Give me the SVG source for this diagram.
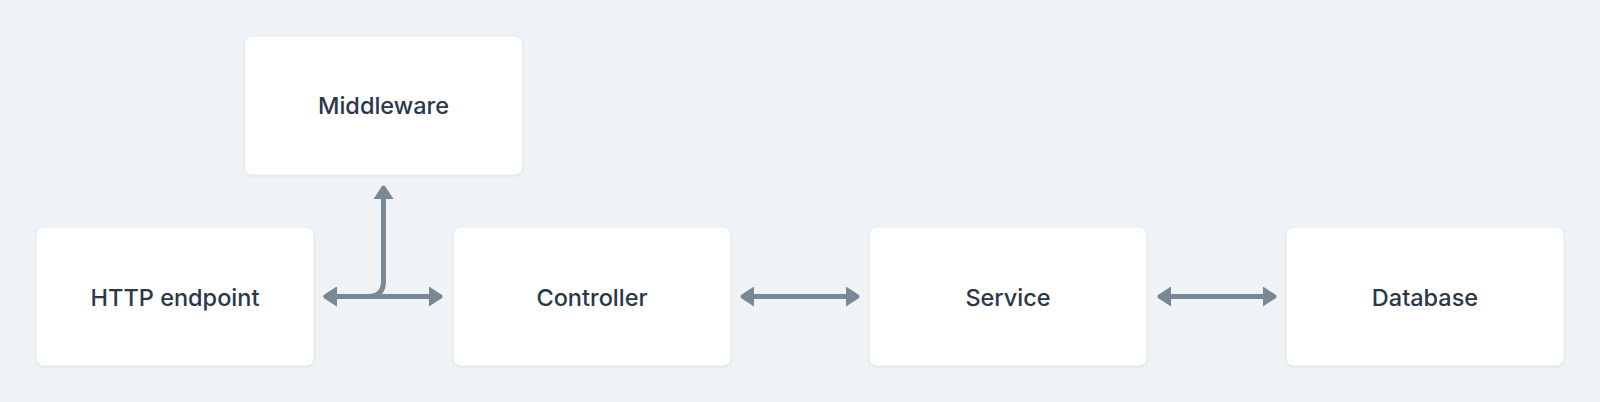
<svg xmlns="http://www.w3.org/2000/svg" width="1600" height="402" viewBox="0 0 1600 402">
  <style>
    .box { fill: #ffffff; stroke: #e6ebef; stroke-width: 1; }
    .lbl { font-family: Inter, "Noto Sans", sans-serif; font-size: 23.5px; font-weight: 500; fill: #28384a; text-anchor: middle; }
    .conn { fill: none; stroke: #7a8896; stroke-width: 5; }
  </style>
  <defs>
    <marker id="ah" viewBox="0 0 14 20" refX="12" refY="10" markerWidth="14" markerHeight="20" markerUnits="userSpaceOnUse" orient="auto-start-reverse">
      <path d="M0 0 L13 8.5 Q14 10 13 11.5 L0 20 Z" fill="#7a8896"/>
    </marker>
    <filter id="sh" x="-5%" y="-5%" width="110%" height="115%">
      <feDropShadow dx="0" dy="1" stdDeviation="1" flood-color="#8a99a8" flood-opacity="0.18"/>
    </filter>
  </defs>
  <rect width="1600" height="402" fill="#eff3f6"/>
  <g id="connectors">
    <path class="conn" d="M325 296.5 H441" marker-start="url(#ah)" marker-end="url(#ah)"/>
    <path class="conn" d="M325 296.5 H368 Q383.5 296.5 383.5 281 V187" marker-start="url(#ah)" marker-end="url(#ah)"/>
    <path class="conn" d="M742 296.5 H858" marker-start="url(#ah)" marker-end="url(#ah)"/>
    <path class="conn" d="M1159 296.5 H1275" marker-start="url(#ah)" marker-end="url(#ah)"/>
  </g>
  <g id="middleware">
    <rect class="box" x="244.5" y="36" width="278" height="139" rx="8" filter="url(#sh)"/>
    <text class="lbl" x="383.5" y="114">Middleware</text>
  </g>
  <g id="http-endpoint">
    <rect class="box" x="36" y="227" width="278" height="139" rx="8" filter="url(#sh)"/>
    <text class="lbl" x="175" y="305.5">HTTP endpoint</text>
  </g>
  <g id="controller">
    <rect class="box" x="453" y="227" width="278" height="139" rx="8" filter="url(#sh)"/>
    <text class="lbl" x="592" y="305.5">Controller</text>
  </g>
  <g id="service">
    <rect class="box" x="869" y="227" width="278" height="139" rx="8" filter="url(#sh)"/>
    <text class="lbl" x="1008" y="305.5">Service</text>
  </g>
  <g id="database">
    <rect class="box" x="1286" y="227" width="278" height="139" rx="8" filter="url(#sh)"/>
    <text class="lbl" x="1425" y="305.5">Database</text>
  </g>
</svg>
